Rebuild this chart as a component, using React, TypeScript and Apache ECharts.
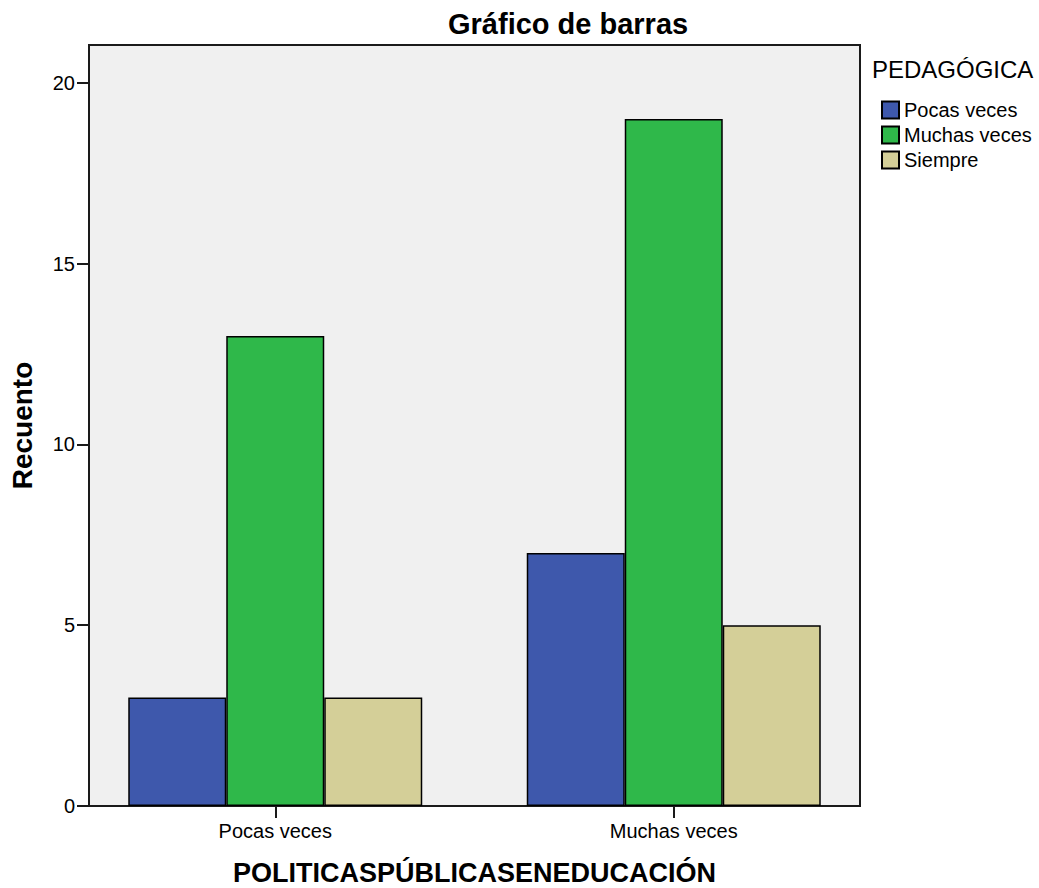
import React, { useEffect, useRef } from "react";
import * as echarts from "echarts";

const categories = ["Pocas veces", "Muchas veces"];
const seriesNames = ["Pocas veces", "Muchas veces", "Siempre"];
const pocasVeces = [3, 7];
const muchasVeces = [13, 19];
const siempre = [3, 5];
const yTicks = [0, 5, 10, 15, 20];
const colors = ["#3e58ac", "#2fb84a", "#d4cf98"];

const FONT = "'Liberation Sans', Arial, sans-serif";
const Y_MAX = 21.05;

export default function App() {
  const ref = useRef<HTMLDivElement>(null);
  useEffect(() => {
    if (!ref.current) return;
    const chart = echarts.init(ref.current, null, { renderer: "svg" });
    const values = [pocasVeces, muchasVeces, siempre];
    chart.setOption({
      animation: false,
      textStyle: { fontFamily: FONT, color: "#000" },
      title: {
        text: "Gráfico de barras",
        left: 443,
        top: 4,
        textStyle: { fontSize: 29, fontWeight: "bold", color: "#000", fontFamily: FONT },
      },
      legend: {
        orient: "vertical",
        left: 876,
        top: 95,
        itemWidth: 17,
        itemHeight: 17,
        itemGap: 5,
        icon: "rect",
        data: seriesNames,
        textStyle: { fontSize: 20, color: "#000", lineHeight: 20, fontFamily: FONT },
      },
      graphic: [
        {
          type: "text",
          left: 872,
          top: 57,
          style: { text: "PEDAGÓGICA", fontSize: 24, fill: "#000", fontFamily: FONT },
        },
      ],
      grid: [
        {
          left: 89,
          top: 45,
          width: 771,
          height: 761,
          show: true,
          backgroundColor: "#f0f0f0",
          borderColor: "#1a1a1a",
          borderWidth: 2,
          outerBoundsMode: "none",
          containLabel: false,
        },
        { left: 76, top: 45, width: 797, height: 761, outerBoundsMode: "none", containLabel: false },
      ],
      xAxis: [
        { gridIndex: 0, type: "value", min: 0, max: 1, show: false },
        {
          gridIndex: 1,
          type: "category",
          data: categories,
          axisLine: { show: false },
          axisTick: { show: true, alignWithLabel: true, length: 12, lineStyle: { color: "#1a1a1a", width: 2 } },
          axisLabel: { fontSize: 20, color: "#000", margin: 15, fontFamily: FONT },
          splitLine: { show: false },
          name: "POLITICASPÚBLICASENEDUCACIÓN",
          nameLocation: "middle",
          nameGap: 53,
          nameTextStyle: { fontSize: 27, lineHeight: 27, fontWeight: "bold", color: "#000", fontFamily: FONT },
        },
      ],
      yAxis: [
        {
          gridIndex: 0,
          type: "value",
          min: 0,
          max: Y_MAX,
          interval: 5,
          axisLine: { show: true, lineStyle: { color: "#1a1a1a", width: 2 } },
          axisTick: { show: true, length: 12, customValues: yTicks, lineStyle: { color: "#1a1a1a", width: 2 } },
          axisLabel: { fontSize: 20, color: "#000", margin: 14, customValues: yTicks, fontFamily: FONT },
          splitLine: { show: false },
          name: "Recuento",
          nameLocation: "middle",
          nameGap: 53,
          nameRotate: 90,
          nameTextStyle: { fontSize: 28, fontWeight: "bold", color: "#000", fontFamily: FONT },
        },
        { gridIndex: 1, type: "value", min: 0, max: Y_MAX, show: false },
      ],
      series: seriesNames.map((name, i) => ({
        name,
        type: "bar",
        xAxisIndex: 1,
        yAxisIndex: 1,
        data: values[i],
        barWidth: 98,
        barGap: "0%",
        itemStyle: { color: colors[i], borderColor: "#000", borderWidth: 1.5 },
      })),
    });
    return () => chart.dispose();
  }, []);
  return (
    <div
      ref={ref}
      style={{ position: "fixed", left: 0, top: 0, width: 1039, height: 888, background: "#fff" }}
    />
  );
}
